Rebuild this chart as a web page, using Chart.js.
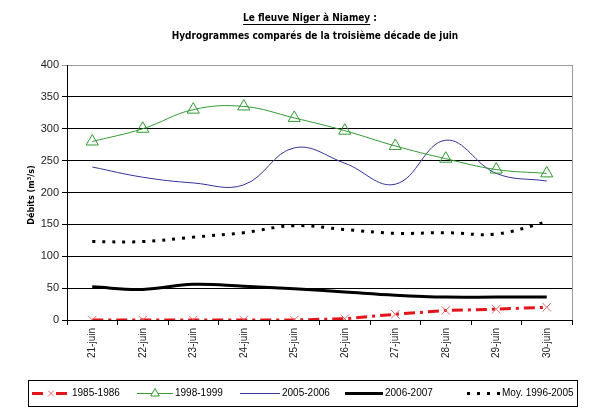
<!DOCTYPE html>
<html>
<head>
<meta charset="utf-8">
<script src="https://cdn.jsdelivr.net/npm/chart.js@4.4.0/dist/chart.umd.min.js"></script>
<style>
html, body { margin: 0; padding: 0; background: #fff; }
#wrap { width: 605px; height: 413px; position: relative; }
</style>
</head>
<body>
<div id="wrap"><canvas id="hydro"></canvas></div>
<script>
// jours de la 3e décade de juin
const days = ['21-juin', '22-juin', '23-juin', '24-juin', '25-juin', '26-juin', '27-juin', '28-juin', '29-juin', '30-juin'];

// débits (m3/s)
const q1985 = [0, 0, 0, 0, 0, 2, 9, 15, 17, 20];
const q1998 = [280, 300, 330, 335, 317, 297, 273, 253, 236, 230];
const q2005 = [240, 224, 215, 212, 270, 246, 213, 282, 230, 218];
const q2006 = [52, 48, 56, 53, 49, 44, 39, 36, 36, 36];
const qMoy = [123, 123, 130, 137, 148, 142, 136, 137, 135, 154];

const yTicks = [0, 50, 100, 150, 200, 250, 300, 350, 400];

const tickFont = { family: 'Liberation Sans', size: 10 };

// titre, titre de l'axe y, cadre droit et légende
const decorPlugin = {
    id: 'decor',
    afterDraw(chart) {
        const ctx = chart.ctx;
        const area = chart.chartArea;
        ctx.save();

        // cadre droit gris
        ctx.strokeStyle = '#999';
        ctx.lineWidth = 1;
        ctx.beginPath();
        ctx.moveTo(Math.round(area.right) + 0.5, area.top);
        ctx.lineTo(Math.round(area.right) + 0.5, area.bottom);
        ctx.stroke();

        // titre
        ctx.fillStyle = '#000';
        ctx.textBaseline = 'middle';
        ctx.textAlign = 'left';
        ctx.font = 'bold 10px "DejaVu Sans Condensed", "DejaVu Sans"';
        const t1 = 'Le fleuve Niger à Niamey';
        const t1b = ' :';
        const w1 = ctx.measureText(t1).width;
        const w1b = ctx.measureText(t1b).width;
        const x1 = 310 - (w1 + w1b) / 2;
        ctx.fillText(t1, x1, 18);
        ctx.fillText(t1b, x1 + w1, 18);
        ctx.fillRect(x1, 24, w1, 1);
        ctx.textAlign = 'center';
        ctx.fillText('Hydrogrammes comparés de la troisième décade de juin', 315, 36);

        // titre axe y
        ctx.save();
        ctx.translate(32, 195);
        ctx.rotate(-Math.PI / 2);
        ctx.font = 'bold 9px "DejaVu Sans Condensed", "DejaVu Sans"';
        ctx.fillText('Débits (m³/s)', 0, 0);
        ctx.restore();

        // légende
        ctx.strokeStyle = '#000';
        ctx.lineWidth = 1;
        ctx.strokeRect(28.5, 380.5, 549, 26);
        const slots = [[32, 70], [137, 173], [240, 280], [345, 383], [467, 500]];
        const ly = 393.5;
        ctx.font = '10px "Liberation Sans"';
        ctx.textAlign = 'left';
        chart.data.datasets.forEach((ds, i) => {
            const [a, b] = slots[i];
            ctx.save();
            ctx.strokeStyle = ds.borderColor;
            ctx.lineWidth = ds.borderWidth;
            ctx.setLineDash(ds.borderDash || []);
            ctx.beginPath();
            ctx.moveTo(a, ly);
            ctx.lineTo(b, ly);
            ctx.stroke();
            ctx.restore();
            if (ds.pointRadius > 0) {
                const mx = (a + b) / 2;
                ctx.save();
                if (ds.pointStyle === 'crossRot') {
                    ctx.fillStyle = '#fff';
                    ctx.fillRect(mx - 5, ly - 5, 10, 10);
                }
                ctx.strokeStyle = ds.pointBorderColor;
                ctx.fillStyle = '#fff';
                Chart.helpers.drawPoint(ctx, {
                    pointStyle: ds.pointStyle,
                    radius: ds.pointRadius - 2,
                    borderWidth: ds.pointBorderWidth
                }, mx, ly);
                ctx.restore();
            }
            ctx.fillStyle = '#000';
            ctx.fillText(ds.label, b + 2, ly);
        });

        ctx.restore();
    }
};

const ctx = document.getElementById('hydro').getContext('2d');
const hydroChart = new Chart(ctx, {
    type: 'line',
    data: {
        labels: days,
        datasets: [
            { label: '1985-1986', data: q1985, borderColor: '#E3141B', borderWidth: 3, borderDash: [11, 5, 3, 5], tension: 0,
              pointStyle: 'crossRot', pointRadius: 6, pointBorderColor: '#E06868', pointBorderWidth: 1, pointBackgroundColor: 'rgba(0,0,0,0)' },
            { label: '1998-1999', data: q1998, borderColor: '#339933', borderWidth: 1, tension: 0.4,
              pointStyle: 'triangle', pointRadius: 7, pointBorderColor: '#339933', pointBorderWidth: 1, pointBackgroundColor: 'rgba(0,0,0,0)' },
            { label: '2005-2006', data: q2005, borderColor: '#333399', borderWidth: 1, tension: 0.4, pointRadius: 0 },
            { label: '2006-2007', data: q2006, borderColor: '#000000', borderWidth: 3, tension: 0.4, pointRadius: 0 },
            { label: 'Moy. 1996-2005', data: qMoy, borderColor: '#000000', borderWidth: 3, borderDash: [3, 7], tension: 0.4, pointRadius: 0 }
        ]
    },
    options: {
        responsive: true, maintainAspectRatio: false, animation: false,
        layout: { padding: { top: 65, right: 33, left: 0, bottom: 0 } },
        plugins: { legend: { display: false }, title: { display: false }, tooltip: { enabled: false } },
        scales: {
            x: {
                offset: true,
                grid: { offset: true, drawOnChartArea: false, drawTicks: true, tickLength: 5, color: '#000' },
                border: { color: '#000', width: 1 },
                ticks: { minRotation: 90, maxRotation: 90, font: tickFont, color: '#222', padding: 3 },
                afterFit: s => { s.height = 93; }
            },
            y: {
                min: 0, max: 400,
                afterBuildTicks: s => { s.ticks = yTicks.map(v => ({ value: v })); },
                grid: {
                    color: c => c.tick && c.tick.value === 400 ? '#999' : '#000',
                    lineWidth: 1, tickLength: 5, drawTicks: true
                },
                border: { color: '#000', width: 1 },
                ticks: { font: { family: 'Liberation Sans', size: 11 }, color: '#222', padding: 3 },
                afterFit: s => { s.width = 67; }
            }
        }
    },
    plugins: [decorPlugin]
});
</script>
</body>
</html>
